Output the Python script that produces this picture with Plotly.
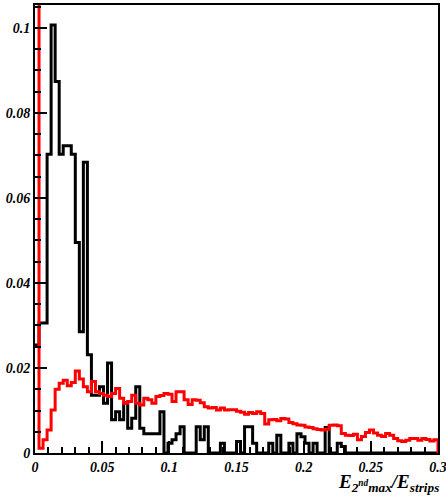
import numpy as np
import plotly.graph_objects as go

# Histogram binning: 100 bins from 0 to 0.3
n_bins = 100
x_min, x_max = 0.0, 0.3

black_vals = [
    0.0254, 0.0306, 0.0306, 0.0703, 0.1007, 0.0874, 0.0703, 0.0723, 0.0723, 0.0703,
    0.0495, 0.0285, 0.0684, 0.0231, 0.0136, 0.0136, 0.0156, 0.0117, 0.0212, 0.0078,
    0.0097, 0.0078, 0.0118, 0.0058, 0.0082, 0.0156, 0.0058, 0.0045, 0.0045, 0.0045,
    0.0045, 0.0097, 0.0, 0.0023, 0.0031, 0.0045, 0.0062, 0.0, 0.0, 0.0,
    0.0062, 0.0031, 0.0062, 0.0, 0.0, 0.0, 0.0023, 0.0, 0.0, 0.0,
    0.0027, 0.0, 0.0062, 0.0062, 0.0023, 0.0, 0.0, 0.0, 0.0023, 0.0,
    0.0042, 0.0, 0.0, 0.0023, 0.0, 0.0045, 0.0038, 0.0023, 0.0, 0.0023,
    0.0, 0.0, 0.0060, 0.0, 0.0, 0.0023, 0.0015, 0.0, 0.0, 0.0,
    0.0, 0.0, 0.0, 0.0, 0.0, 0.0, 0.0, 0.0, 0.0, 0.0,
    0.0, 0.0, 0.0, 0.0, 0.0, 0.0, 0.0, 0.0, 0.0, 0.0,
]

red_vals = [
    0.3000, 0.0011, 0.0031, 0.0054, 0.0101, 0.0150, 0.0164, 0.0171, 0.0158, 0.0166,
    0.0193, 0.0174, 0.0156, 0.0144, 0.0168, 0.0144, 0.0140, 0.0136, 0.0133, 0.0140,
    0.0152, 0.0129, 0.0117, 0.0121, 0.0136, 0.0117, 0.0113, 0.0129, 0.0125, 0.0117,
    0.0133, 0.0135, 0.0140, 0.0138, 0.0121, 0.0144, 0.0144, 0.0125, 0.0114, 0.0125,
    0.0124, 0.0118, 0.0109, 0.0106, 0.0107, 0.0101, 0.0106, 0.0101, 0.0102, 0.0102,
    0.0098, 0.0096, 0.0091, 0.0095, 0.0093, 0.0097, 0.0093, 0.0068, 0.0078, 0.0079,
    0.0076, 0.0081, 0.0080, 0.0072, 0.0069, 0.0066, 0.0065, 0.0061, 0.0060, 0.0057,
    0.0055, 0.0054, 0.0056, 0.0065, 0.0066, 0.0064, 0.0046, 0.0042, 0.0041, 0.0044,
    0.0031, 0.0039, 0.0048, 0.0054, 0.0047, 0.0042, 0.0039, 0.0046, 0.0042, 0.0034,
    0.0029, 0.0027, 0.0030, 0.0034, 0.0034, 0.0030, 0.0034, 0.0032, 0.0028, 0.0031,
]

x_tick_vals = [0, 0.05, 0.1, 0.15, 0.2, 0.25, 0.3]
x_tick_text = ["0", "0.05", "0.1", "0.15", "0.2", "0.25", "0.3"]
y_tick_vals = [0, 0.02, 0.04, 0.06, 0.08, 0.1]
y_tick_text = ["0", "0.02", "0.04", "0.06", "0.08", "0.1"]

edges = np.linspace(x_min, x_max, n_bins + 1)


def step_xy(vals):
    # step outline: starts on the frame edge, drops to zero at the right end
    xs = list(edges[:-1]) + [edges[-1], edges[-1]]
    ys = list(vals) + [vals[-1], 0.0]
    return xs, ys


fig = go.Figure()
for vals, col in [(black_vals, "black"), (red_vals, "red")]:
    xs, ys = step_xy(vals)
    fig.add_trace(go.Scatter(x=xs, y=ys, mode="lines", line_shape="hv",
                             line=dict(color=col, width=3), showlegend=False,
                             hoverinfo="skip"))

tick_font = dict(family="Liberation Serif", size=14, color="black",
                 weight="bold", style="italic")

fig.update_layout(
    width=446, height=501,
    margin=dict(l=35, r=8, t=5, b=48, autoexpand=False),
    paper_bgcolor="white", plot_bgcolor="white",
    xaxis=dict(range=[x_min, x_max], showgrid=False, zeroline=False, automargin=False,
               showline=True, linecolor="black", linewidth=2, mirror=True,
               ticks="inside", ticklen=12, tickwidth=1.5, tickcolor="black",
               tickvals=x_tick_vals, ticktext=x_tick_text, tickfont=tick_font,
               ticklabeloverflow="allow",
               minor=dict(ticks="inside", ticklen=6, tickwidth=1.5,
                          tickcolor="black", dtick=0.01, showgrid=False)),
    yaxis=dict(range=[0, 0.1054], showgrid=False, zeroline=False, automargin=False,
               showline=True, linecolor="black", linewidth=2, mirror=True,
               ticks="inside", ticklen=12, tickwidth=1.5, tickcolor="black",
               tickvals=y_tick_vals, ticktext=y_tick_text, tickfont=tick_font,
               ticklabeloverflow="allow",
               minor=dict(ticks="inside", ticklen=6, tickwidth=1.5,
                          tickcolor="black", dtick=0.005, showgrid=False)),
    annotations=[dict(
        text="E<sub>2<sup>nd</sup>max</sub>/E<sub>strips</sub>",
        xref="paper", yref="paper", x=1.008, y=-0.066, xanchor="right", yanchor="middle",
        showarrow=False,
        font=dict(family="Liberation Serif", size=19, color="black",
                  weight="bold", style="italic"))],
)

fig.write_html("out.html", config={"displayModeBar": False},
               post_script="document.body.style.margin='0';document.body.style.padding='0';")
